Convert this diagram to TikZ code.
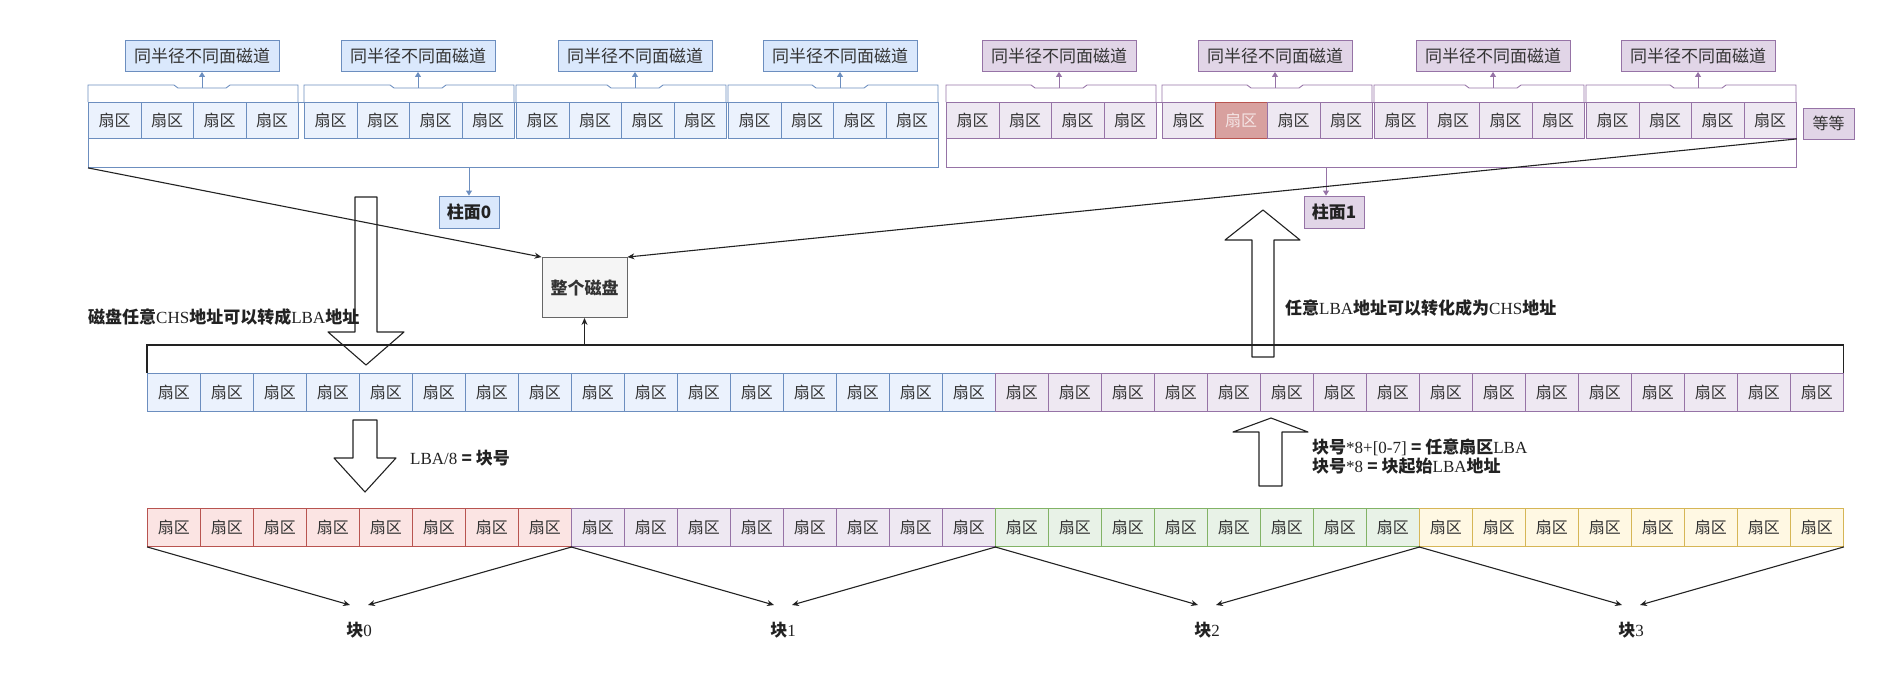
\documentclass[tikz,border=0pt]{standalone}
\usepackage{fontspec}
\setmainfont{Liberation Serif}
\newfontfamily\cjk{Noto Sans CJK SC}
\usetikzlibrary{arrows.meta,calc}
\definecolor{bS}{HTML}{6C8EBF}
\definecolor{bF}{HTML}{DAE8FC}
\definecolor{pS}{HTML}{9673A6}
\definecolor{pF}{HTML}{E1D5E7}
\definecolor{rS}{HTML}{B85450}
\definecolor{rF}{HTML}{F8CECC}
\definecolor{gS}{HTML}{82B366}
\definecolor{gF}{HTML}{D5E8D4}
\definecolor{yS}{HTML}{D6B656}
\definecolor{yF}{HTML}{FFF2CC}
\definecolor{txt}{HTML}{333333}
\definecolor{dk}{HTML}{222222}
\newcommand{\zhb}{\cjk\bfseries}
\begin{document}
\begin{tikzpicture}[x=1pt,y=-1pt,
  sector/.style={draw=#1S, fill=#1F!55, line width=0.9pt, minimum height=36pt, inner sep=0pt,
    anchor=north west, font=\cjk\fontsize{16}{18}\selectfont, text=txt},
  lab/.style={draw=#1S, fill=#1F, line width=0.9pt, minimum width=154pt, minimum height=31pt,
    inner sep=0pt, font=\cjk\fontsize{17}{19}\selectfont, text=txt},
  zbox/.style={draw=#1S, fill=#1F, line width=0.9pt, minimum width=60pt, minimum height=32pt,
    inner sep=0pt, font=\zhb\fontsize{17}{19}\selectfont, text=dk},
  cl/.style={draw=#1S, line width=0.9pt},
  carrow/.style={draw=#1S, line width=0.9pt, -{Triangle[length=5pt,width=6pt]}},
  blk/.style={draw=dk, line width=1.1pt},
  barrow/.style={draw=dk, line width=1.1pt, -{Stealth[length=7pt,width=6pt]}},
  hollow/.style={draw=dk, line width=1.1pt, fill=white, line join=round},
  txtlab/.style={inner sep=0pt, anchor=west, font=\fontsize{17}{19}\selectfont, text=dk},
]
\useasboundingbox (0,0) rectangle (1885,683);

% ---------- hollow arrows (drawn first) ----------
\draw[hollow] (355,197) -- (377,197) -- (377,332) -- (404,332) -- (366,365) -- (328,332) -- (355,332) -- cycle;
\draw[hollow] (1252,357) -- (1274,357) -- (1274,240) -- (1300,240) -- (1263,210) -- (1225,240) -- (1252,240) -- cycle;
\draw[hollow] (353,420) -- (377,420) -- (377,458) -- (396,458) -- (365,492) -- (334,458) -- (353,458) -- cycle;
\draw[hollow] (1259,486) -- (1282,486) -- (1282,432) -- (1308,432) -- (1271,418) -- (1233,432) -- (1259,432) -- cycle;

% ---------- top row: outer containers ----------
\node[draw=bS, line width=0.9pt, minimum width=850pt, minimum height=65pt, inner sep=0pt, anchor=north west] (bouter) at (88,102) {};
\node[draw=pS, line width=0.9pt, minimum width=850pt, minimum height=65pt, inner sep=0pt, anchor=north west] (pouter) at (946,102) {};

% blue groups
\foreach \gx/\cx [count=\g] in {88/202,304/418,516/635,728/840}{
  \foreach \k in {0,...,3}{
    \node[sector=b, minimum width=52.5pt] (tb\g\k) at (\gx+\k*52.5,102) {扇区};
  }
  \draw[cl=b] (\gx,102) -- (\gx,85) -- (\cx-28,85) -- (\cx-24,88) -- (\cx+24,88) -- (\cx+28,85) -- (\gx+210,85) -- (\gx+210,102);
  \node[lab=b] (lb\g) at (\cx,56) {同半径不同面磁道};
  \coordinate (nb\g) at (\cx,88);
  \draw[carrow=b] (nb\g) -- (lb\g.south);
}
% purple groups
\foreach \gx/\cx [count=\g] in {946/1059,1162/1275,1374/1493,1586/1698}{
  \foreach \k in {0,...,3}{
    \ifnum\g\k=21
      \node[sector=r, minimum width=52.5pt, fill=rS!55, text=white!85!rS] (tp\g\k) at (\gx+\k*52.5,102) {扇区};
    \else
      \node[sector=p, minimum width=52.5pt] (tp\g\k) at (\gx+\k*52.5,102) {扇区};
    \fi
  }
  \draw[cl=p] (\gx,102) -- (\gx,85) -- (\cx-28,85) -- (\cx-24,88) -- (\cx+24,88) -- (\cx+28,85) -- (\gx+210,85) -- (\gx+210,102);
  \node[lab=p] (lp\g) at (\cx,56) {同半径不同面磁道};
  \coordinate (np\g) at (\cx,88);
  \draw[carrow=p] (np\g) -- (lp\g.south);
}
\node[draw=pS, fill=pF, line width=0.9pt, minimum width=51pt, minimum height=31pt, inner sep=0pt,
  font=\cjk\fontsize{16}{18}\selectfont, text=txt] (etc) at (1828.5,123.5) {等等};

% cylinder labels
\node[zbox=b] (z0) at (469,212) {柱面0};
\node[zbox=p] (z1) at (1334,212) {柱面1};
\draw[carrow=b] (bouter.south -| z0) -- (z0.north);
\coordinate (z1a) at (1326,167);
\draw[carrow=p] (z1a) -- (z1a |- z1.north);

% whole disk
\node[draw=black!60, fill=black!4, line width=0.9pt, minimum width=85pt, minimum height=60pt, inner sep=0pt,
  font=\zhb\fontsize{17}{19}\selectfont, text=txt] (disk) at (584.5,287.5) {整个磁盘};
\draw[barrow] (bouter.south west) -- (disk.north west);
\draw[barrow] (tp43.south east) -- (disk.north east);

% ---------- middle row ----------
\foreach \i in {0,...,31}{
  \ifnum\i<16 \def\cc{b}\else\def\cc{p}\fi
  \node[sector=\cc, minimum width=53pt, minimum height=38pt] (m\i) at (147+\i*53,373) {扇区};
}
\draw[blk] (m0.north west) -- ++(0,-28) coordinate (brk) -| (m31.north east);
\draw[barrow] (disk.south |- brk) -- (disk.south);

% ---------- bottom row ----------
\foreach \i in {0,...,31}{
  \ifnum\i<8 \def\cc{r}\else\ifnum\i<16 \def\cc{p}\else\ifnum\i<24 \def\cc{g}\else\def\cc{y}\fi\fi\fi
  \node[sector=\cc, minimum width=53pt, minimum height=38pt] (bo\i) at (147+\i*53,508) {扇区};
}

% blocks
\foreach \n/\cx in {0/359,1/783,2/1207,3/1631}{
  \node[inner sep=0pt, font=\fontsize{17}{19}\selectfont, text=dk] (k\n) at (\cx,630) {{\zhb 块}\n};
  \coordinate (ka\n) at (\cx-9,605);
  \coordinate (kb\n) at (\cx+9,605);
}
\draw[barrow] (bo0.south west) -- (ka0);
\draw[barrow] (bo7.south east) -- (kb0);
\draw[barrow] (bo8.south west) -- (ka1);
\draw[barrow] (bo15.south east) -- (kb1);
\draw[barrow] (bo16.south west) -- (ka2);
\draw[barrow] (bo23.south east) -- (kb2);
\draw[barrow] (bo24.south west) -- (ka3);
\draw[barrow] (bo31.south east) -- (kb3);

% ---------- texts ----------
\node[txtlab] (t1) at (88,317) {{\zhb 磁盘任意}CHS{\zhb 地址可以转成}LBA{\zhb 地址}};
\node[txtlab] (t2) at (1285,308) {{\zhb 任意}LBA{\zhb 地址可以转化成为}CHS{\zhb 地址}};
\node[txtlab] (t3) at (410,458) {LBA/8 {\zhb = 块号}};
\node[txtlab, align=left, font=\fontsize{17}{19.5}\selectfont] (t4) at (1312,456.5)
  {{\zhb 块号}*8+[0-7] {\zhb = 任意扇区}LBA\\{\zhb 块号}*8 {\zhb = 块起始}LBA{\zhb 地址}};
\end{tikzpicture}
\end{document}
